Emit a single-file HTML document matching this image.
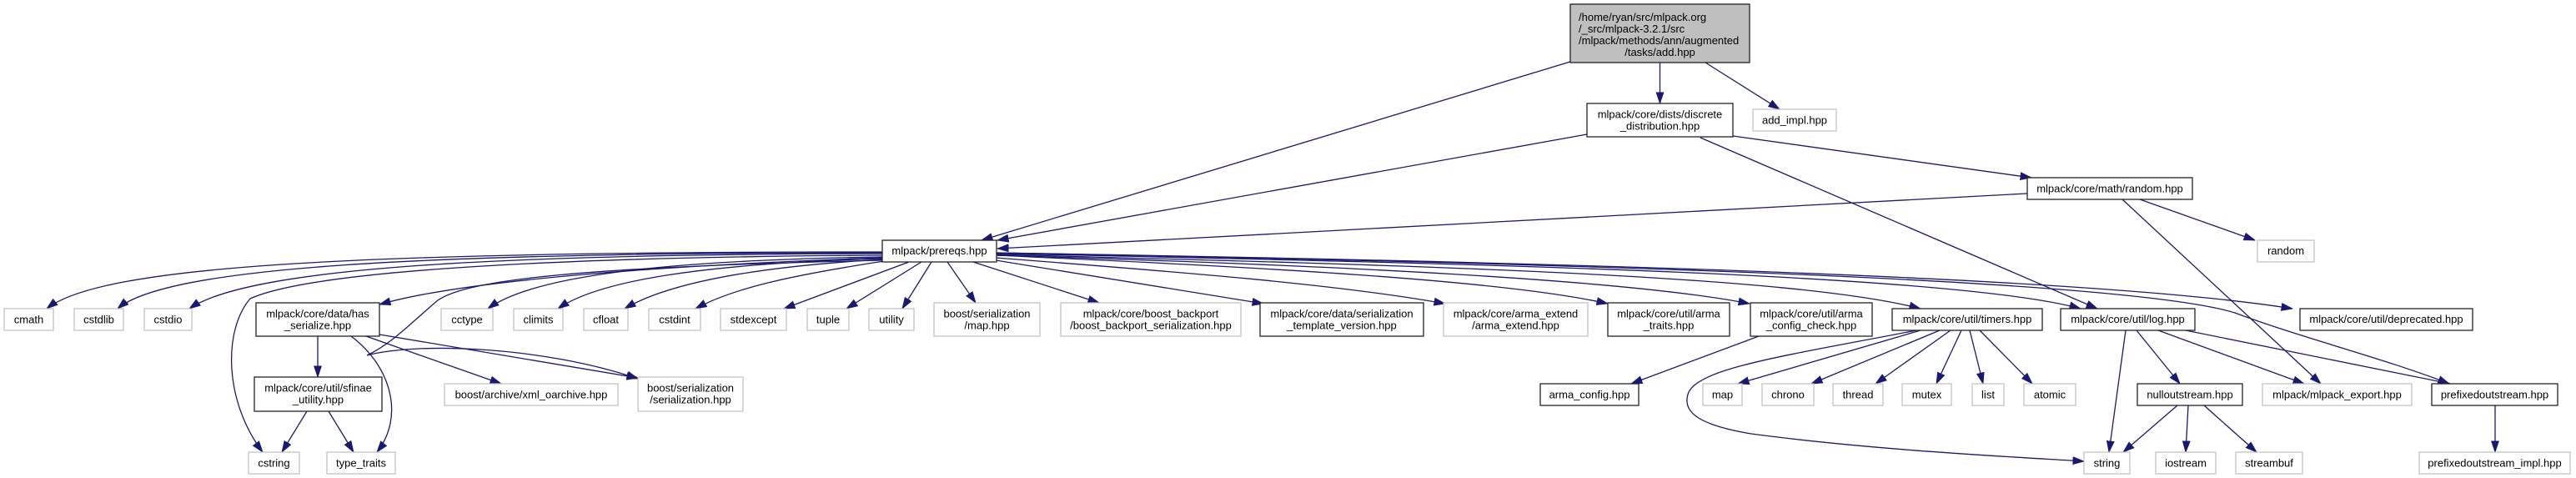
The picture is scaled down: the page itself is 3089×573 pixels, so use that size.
<!DOCTYPE html>
<html><head><meta charset="utf-8"><style>
html,body{margin:0;padding:0;background:#fff;}
svg{display:block;}
text{font-family:"Liberation Sans",Arial,sans-serif;font-size:13px;fill:#000;}
.e{fill:none;stroke:#191970;stroke-width:1.3;marker-end:url(#ah);}
.b{fill:#fff;stroke:#222;stroke-width:1.3;}
.g{fill:#fff;stroke:#bfbfbf;stroke-width:1.2;}
</style></head><body>
<svg width="3089" height="573" viewBox="0 0 3089 573" xmlns="http://www.w3.org/2000/svg">
<defs>
<marker id="ah" markerUnits="userSpaceOnUse" markerWidth="14" markerHeight="10" refX="13.5" refY="5" orient="auto">
<path d="M0,0.3 L14,5 L0,9.7 z" fill="#191970" stroke="#191970" stroke-width="0.5"/>
</marker>
</defs>
<rect width="3089" height="573" fill="#fff"/>

<!-- edges -->
<path class="e" d="M1883,74 L1177,288"/>
<path class="e" d="M1990.5,75 L1990.5,124"/>
<path class="e" d="M2045,75 L2134,131"/>
<path class="e" d="M1903,161 L1196,288"/>
<path class="e" d="M2078,163 L2436,213"/>
<path class="e" d="M2039,165 L2515,370"/>
<path class="e" d="M2431,232 L1196,298"/>
<path class="e" d="M2566,239 L2704,288"/>
<path class="e" d="M2545,239 L2783,460"/>

<path class="e" d="M1058,302 C400,302 120,320 56,370"/>
<path class="e" d="M1058,303 C500,303 200,320 141,370"/>
<path class="e" d="M1058,304 C600,305 300,320 227,370"/>
<path class="e" d="M1058,306 C700,308 380,322 300,358 C268,395 268,480 315,542"/>
<path class="e" d="M1058,309 C800,318 560,335 455,365"/>
<path class="e" d="M1058,308 C800,312 640,330 585,370"/>
<path class="e" d="M1058,310 C850,316 720,335 669,370"/>
<path class="e" d="M1058,311 C900,320 800,340 749,370"/>
<path class="e" d="M1060,313 C950,330 880,345 834,370"/>
<path class="e" d="M1090,314 L940,370"/>
<path class="e" d="M1105,314 L1015,370"/>
<path class="e" d="M1117,314 L1082,370"/>
<path class="e" d="M1136,314 L1170,363"/>
<path class="e" d="M1167,314 L1318,363"/>
<path class="e" d="M1194,312 L1515,364"/>
<path class="e" d="M1194,309 C1400,325 1600,340 1733,364"/>
<path class="e" d="M1194,306 C1500,320 1800,335 1928,364"/>
<path class="e" d="M1194,306 C1600,318 1950,335 2098,364"/>
<path class="e" d="M1194,305 C1700,318 2150,330 2303,370"/>
<path class="e" d="M1194,304 C1800,316 2350,330 2495,370"/>
<path class="e" d="M1194,303 C1800,313 2500,330 2749,370"/>
<path class="e" d="M1194,303 C1900,316 2550,335 2680,375 C2760,405 2860,430 2937,460"/>
<path class="e" d="M1058,312 C700,320 560,335 525,360 C495,385 470,412 440,426 C500,410 650,415 765,454"/>

<path class="e" d="M455,401 L765,453"/>
<path class="e" d="M381,403 L381,452"/>
<path class="e" d="M439,403 L601,460"/>
<path class="e" d="M421,403 C470,440 485,500 452,542"/>
<path class="e" d="M368,493 L338,542"/>
<path class="e" d="M394,493 L424,542"/>
<path class="e" d="M2109,403 L1956,460"/>
<path class="e" d="M2303,396 L2084,460"/>
<path class="e" d="M2298,396 C2150,425 2040,440 2025,470 C2015,495 2040,510 2100,520 C2250,540 2420,548 2499,553"/>
<path class="e" d="M2326,396 L2172,460"/>
<path class="e" d="M2339,396 L2249,460"/>
<path class="e" d="M2352,396 L2322,460"/>
<path class="e" d="M2362,396 L2378,460"/>
<path class="e" d="M2374,396 L2437,460"/>
<path class="e" d="M2549,396 L2529,542"/>
<path class="e" d="M2562,396 L2614,460"/>
<path class="e" d="M2588,396 L2763,460"/>
<path class="e" d="M2621,396 L2938,460"/>
<path class="e" d="M2611,486 L2546,542"/>
<path class="e" d="M2624,486 L2621,542"/>
<path class="e" d="M2643,486 L2706,542"/>
<path class="e" d="M2992,486 L2992,542"/>

<!-- nodes -->
<rect x="1883" y="5" width="215" height="70" fill="#bfbfbf" stroke="#222" stroke-width="1.3"/>
<text x="1893" y="25">/home/ryan/src/mlpack.org</text>
<text x="1893" y="39">/_src/mlpack-3.2.1/src</text>
<text x="1893" y="53">/mlpack/methods/ann/augmented</text>
<text x="1990.5" y="67" text-anchor="middle">/tasks/add.hpp</text>

<rect class="b" x="1903" y="124" width="175" height="40"/>
<text x="1990.5" y="141.5" text-anchor="middle">mlpack/core/dists/discrete</text>
<text x="1990.5" y="155.5" text-anchor="middle">_distribution.hpp</text>

<rect class="g" x="2102" y="131" width="100" height="26"/>
<text x="2152" y="148.5" text-anchor="middle">add_impl.hpp</text>

<rect class="b" x="2431" y="213" width="198" height="26"/>
<text x="2530" y="230.5" text-anchor="middle">mlpack/core/math/random.hpp</text>

<rect class="g" x="2707" y="288" width="68" height="26"/>
<text x="2741" y="305" text-anchor="middle">random</text>

<rect class="b" x="1058" y="288" width="137" height="26"/>
<text x="1126.5" y="305" text-anchor="middle">mlpack/prereqs.hpp</text>

<!-- row A -->
<rect class="g" x="5" y="370" width="59" height="26"/><text x="34.5" y="387.5" text-anchor="middle">cmath</text>
<rect class="g" x="89" y="370" width="59" height="26"/><text x="118.5" y="387.5" text-anchor="middle">cstdlib</text>
<rect class="g" x="173" y="370" width="57" height="26"/><text x="201.5" y="387.5" text-anchor="middle">cstdio</text>
<rect class="b" x="307" y="363" width="148" height="40"/><text x="381" y="380.5" text-anchor="middle">mlpack/core/data/has</text><text x="381" y="394.5" text-anchor="middle">_serialize.hpp</text>
<rect class="g" x="529" y="370" width="62" height="26"/><text x="560" y="387.5" text-anchor="middle">cctype</text>
<rect class="g" x="616" y="370" width="59" height="26"/><text x="645.5" y="387.5" text-anchor="middle">climits</text>
<rect class="g" x="700" y="370" width="53" height="26"/><text x="726.5" y="387.5" text-anchor="middle">cfloat</text>
<rect class="g" x="778" y="370" width="62" height="26"/><text x="809" y="387.5" text-anchor="middle">cstdint</text>
<rect class="g" x="864" y="370" width="79" height="26"/><text x="903.5" y="387.5" text-anchor="middle">stdexcept</text>
<rect class="g" x="968" y="370" width="50" height="26"/><text x="993" y="387.5" text-anchor="middle">tuple</text>
<rect class="g" x="1042" y="370" width="54" height="26"/><text x="1069" y="387.5" text-anchor="middle">utility</text>
<rect class="g" x="1120" y="363" width="127" height="40"/><text x="1183.5" y="380.5" text-anchor="middle">boost/serialization</text><text x="1183.5" y="394.5" text-anchor="middle">/map.hpp</text>
<rect class="g" x="1272" y="363" width="216" height="40"/><text x="1380" y="380.5" text-anchor="middle">mlpack/core/boost_backport</text><text x="1380" y="394.5" text-anchor="middle">/boost_backport_serialization.hpp</text>
<rect class="b" x="1511" y="363" width="196" height="40"/><text x="1609" y="380.5" text-anchor="middle">mlpack/core/data/serialization</text><text x="1609" y="394.5" text-anchor="middle">_template_version.hpp</text>
<rect class="g" x="1731" y="363" width="173" height="40"/><text x="1817.5" y="380.5" text-anchor="middle">mlpack/core/arma_extend</text><text x="1817.5" y="394.5" text-anchor="middle">/arma_extend.hpp</text>
<rect class="b" x="1928" y="363" width="146" height="40"/><text x="2001" y="380.5" text-anchor="middle">mlpack/core/util/arma</text><text x="2001" y="394.5" text-anchor="middle">_traits.hpp</text>
<rect class="b" x="2099" y="363" width="146" height="40"/><text x="2172" y="380.5" text-anchor="middle">mlpack/core/util/arma</text><text x="2172" y="394.5" text-anchor="middle">_config_check.hpp</text>
<rect class="b" x="2269" y="370" width="180" height="26"/><text x="2359" y="387" text-anchor="middle">mlpack/core/util/timers.hpp</text>
<rect class="b" x="2471" y="370" width="161" height="26"/><text x="2551.5" y="387" text-anchor="middle">mlpack/core/util/log.hpp</text>
<rect class="b" x="2758" y="370" width="207" height="26"/><text x="2861.5" y="387" text-anchor="middle">mlpack/core/util/deprecated.hpp</text>

<!-- row B -->
<rect class="b" x="305" y="452" width="153" height="41"/><text x="381.5" y="469.5" text-anchor="middle">mlpack/core/util/sfinae</text><text x="381.5" y="483.5" text-anchor="middle">_utility.hpp</text>
<rect class="g" x="533" y="460" width="208" height="26"/><text x="637" y="477.5" text-anchor="middle">boost/archive/xml_oarchive.hpp</text>
<rect class="g" x="765" y="452" width="126" height="41"/><text x="828" y="469.5" text-anchor="middle">boost/serialization</text><text x="828" y="483.5" text-anchor="middle">/serialization.hpp</text>
<rect class="b" x="1847" y="460" width="118" height="26"/><text x="1906" y="477.5" text-anchor="middle">arma_config.hpp</text>
<rect class="g" x="2042" y="460" width="47" height="26"/><text x="2065.5" y="477.5" text-anchor="middle">map</text>
<rect class="g" x="2113" y="460" width="62" height="26"/><text x="2144" y="477.5" text-anchor="middle">chrono</text>
<rect class="g" x="2198" y="460" width="60" height="26"/><text x="2228" y="477.5" text-anchor="middle">thread</text>
<rect class="g" x="2281" y="460" width="59" height="26"/><text x="2310.5" y="477.5" text-anchor="middle">mutex</text>
<rect class="g" x="2365" y="460" width="38" height="26"/><text x="2384" y="477.5" text-anchor="middle">list</text>
<rect class="g" x="2427" y="460" width="62" height="26"/><text x="2458" y="477.5" text-anchor="middle">atomic</text>
<rect class="b" x="2563" y="460" width="126" height="26"/><text x="2626" y="477.5" text-anchor="middle">nulloutstream.hpp</text>
<rect class="g" x="2713" y="460" width="179" height="26"/><text x="2802.5" y="477.5" text-anchor="middle">mlpack/mlpack_export.hpp</text>
<rect class="b" x="2916" y="460" width="151" height="26"/><text x="2991.5" y="477.5" text-anchor="middle">prefixedoutstream.hpp</text>

<!-- row C -->
<rect class="g" x="298" y="542" width="61" height="26"/><text x="328.5" y="559.5" text-anchor="middle">cstring</text>
<rect class="g" x="392" y="542" width="82" height="26"/><text x="433" y="559.5" text-anchor="middle">type_traits</text>
<rect class="g" x="2499" y="542" width="55" height="26"/><text x="2526.5" y="559.5" text-anchor="middle">string</text>
<rect class="g" x="2585" y="542" width="72" height="26"/><text x="2621" y="559.5" text-anchor="middle">iostream</text>
<rect class="g" x="2681" y="542" width="80" height="26"/><text x="2721" y="559.5" text-anchor="middle">streambuf</text>
<rect class="g" x="2901" y="542" width="181" height="26"/><text x="2991.5" y="559.5" text-anchor="middle">prefixedoutstream_impl.hpp</text>
</svg>
</body></html>
